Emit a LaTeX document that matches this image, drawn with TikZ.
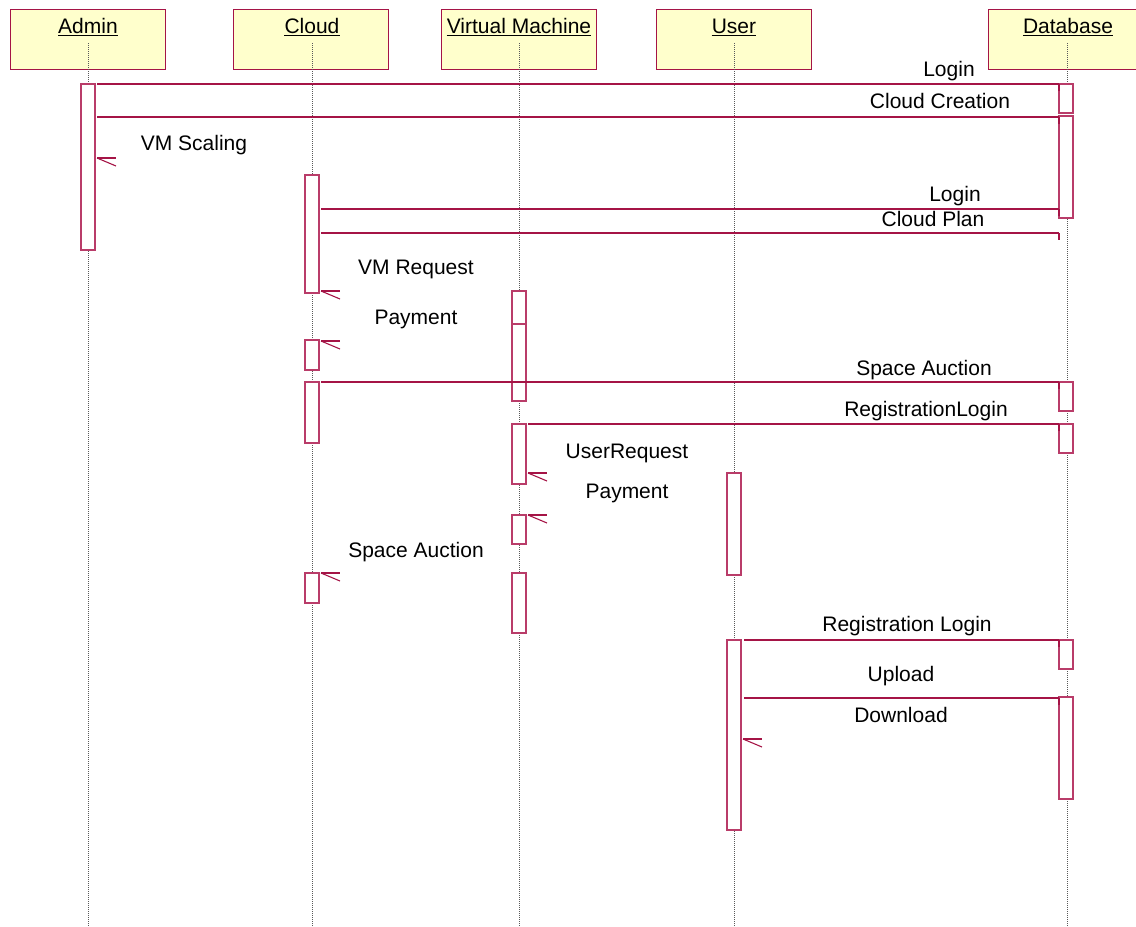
\documentclass[tikz,border=0pt]{standalone}
\usepackage{fontspec}
\setmainfont{Liberation Sans}
\definecolor{umlred}{RGB}{165,20,70}
\definecolor{barred}{RGB}{185,60,105}
\definecolor{headfill}{RGB}{255,255,204}
\begin{document}
\begin{tikzpicture}[x=1pt,y=-1pt,
  every node/.style={font=\fontsize{21}{25}\selectfont},
  head/.style={draw=umlred,fill=headfill,line width=1pt,minimum width=155pt,minimum height=60pt,inner sep=0pt},
  headlabel/.style={anchor=base,inner sep=0pt},
  ul/.style={black,line width=1.5pt},
  lifeline/.style={gray!70!black,line width=0.6pt,dash pattern=on 1pt off 1pt},
  actbar/.style={draw=barred,fill=white,line width=1.2pt,minimum width=14pt,inner sep=0pt},
  msg/.style={umlred,line width=1.1pt},
  lbl/.style={anchor=base,inner sep=0pt},
  tick/.style={umlred,line width=1.6pt}]
\useasboundingbox (0,0) rectangle (1136,927);
\begin{scope}
\clip (0,0) rectangle (1136,927);
% headers
\node[head] (hadmin) at (87.5,39) {};
\node[head] (hcloud) at (311,39) {};
\node[head] (hvm) at (519,39) {};
\node[head] (huser) at (734,39) {};
\node[head] (hdb) at (1066,39) {};
\end{scope}
\node[headlabel] (tadmin) at (88,33) {Admin};
\node[headlabel] (tcloud) at (312,33) {Cloud};
\node[headlabel] (tvm) at (519,33) {Virtual Machine};
\node[headlabel] (tuser) at (734,33) {User};
\node[headlabel] (tdb) at (1068,33) {Database};
\foreach \t in {tadmin,tcloud,tvm,tuser,tdb}{
  \draw[ul] ([yshift=-2.5pt]\t.base west) -- ([yshift=-2.5pt]\t.base east);
}
% lifelines
\coordinate (eadmin) at (88,927);
\coordinate (ecloud) at (312,927);
\coordinate (evm) at (519,927);
\coordinate (euser) at (734,927);
\coordinate (edb) at (1067,927);
\coordinate (sadmin) at (88,43);
\coordinate (scloud) at (312,43);
\coordinate (svm) at (519,43);
\coordinate (suser) at (734,43);
\coordinate (sdb) at (1067,43);
\draw[lifeline] (sadmin) -- (eadmin);
\draw[lifeline] (scloud) -- (ecloud);
\draw[lifeline] (svm) -- (evm);
\draw[lifeline] (suser) -- (euser);
\draw[lifeline] (sdb) -- (edb);
% activation bars
\node[actbar,minimum height=166pt] (a1) at (88,167) {};
\node[actbar,minimum height=118pt] (c1) at (312,234) {};
\node[actbar,minimum height=30pt] (c2) at (312,355) {};
\node[actbar,minimum height=61pt] (c3) at (312,412.5) {};
\node[actbar,minimum height=30pt] (c4) at (312,588) {};
\node[actbar,minimum height=110pt] (v1) at (519,346) {};
\node[actbar,minimum height=77pt] (v1b) at (519,362.5) {};
\node[actbar,minimum height=60pt] (v2) at (519,454) {};
\node[actbar,minimum height=29pt] (v3) at (519,529.5) {};
\node[actbar,minimum height=60pt] (v4) at (519,603) {};
\node[actbar,minimum height=102pt] (u1) at (734,524) {};
\node[actbar,minimum height=190pt] (u2) at (734,735) {};
\node[actbar,minimum height=29pt] (d1) at (1066,98.5) {};
\node[actbar,minimum height=102pt] (d2) at (1066,167) {};
\node[actbar,minimum height=29pt] (d3) at (1066,396.5) {};
\node[actbar,minimum height=29pt] (d4) at (1066,438.5) {};
\node[actbar,minimum height=29pt] (d5) at (1066,654.5) {};
\node[actbar,minimum height=102pt] (d6) at (1066,748) {};
% message end points
\coordinate (m1s) at (97,84);   \coordinate (m1e) at (1059,84);
\coordinate (m2s) at (97,117);  \coordinate (m2e) at (1059,117);
\coordinate (m4s) at (321,209); \coordinate (m4e) at (1059,209);
\coordinate (m5s) at (321,233); \coordinate (m5e) at (1059,233);
\coordinate (m8s) at (321,382); \coordinate (m8e) at (1059,382);
\coordinate (m9s) at (528,424); \coordinate (m9e) at (1059,424);
\coordinate (m13s) at (744,640); \coordinate (m13e) at (1059,640);
\coordinate (m14s) at (744,698); \coordinate (m14e) at (1059,698);
% messages
\foreach \m in {m1,m2,m4,m5,m8,m9,m13,m14}{
  \draw[msg] (\m s) -- (\m e);
  \draw[tick] (\m e) -- ++(0,7);
}
% self messages (half arrow heads)
\coordinate (s3) at (97,158);
\coordinate (s6) at (321,291);
\coordinate (s7) at (321,341);
\coordinate (s10) at (528,473);
\coordinate (s11) at (528,515);
\coordinate (s12) at (321,573);
\coordinate (s15) at (743,739);
\foreach \s in {s3,s6,s7,s10,s11,s12,s15}{
  \draw[msg] (\s) -- ++(19,0);
  \draw[msg] (\s) -- ++(19,8);
}
% labels
\node[lbl] (l1) at (949,76) {Login};
\node[lbl] (l2) at (940,108) {Cloud Creation};
\node[lbl] (l3) at (194,150) {VM Scaling};
\node[lbl] (l4) at (955,201) {Login};
\node[lbl] (l5) at (933,226) {Cloud Plan};
\node[lbl] (l6) at (416,274) {VM Request};
\node[lbl] (l7) at (416,324) {Payment};
\node[lbl] (l8) at (924,375) {Space Auction};
\node[lbl] (l9) at (926,416) {RegistrationLogin};
\node[lbl] (l10) at (627,458) {UserRequest};
\node[lbl] (l11) at (627,498) {Payment};
\node[lbl] (l12) at (416,557) {Space Auction};
\node[lbl] (l13) at (907,631) {Registration Login};
\node[lbl] (l14) at (901,681) {Upload};
\node[lbl] (l15) at (901,722) {Download};
\end{tikzpicture}
\end{document}
